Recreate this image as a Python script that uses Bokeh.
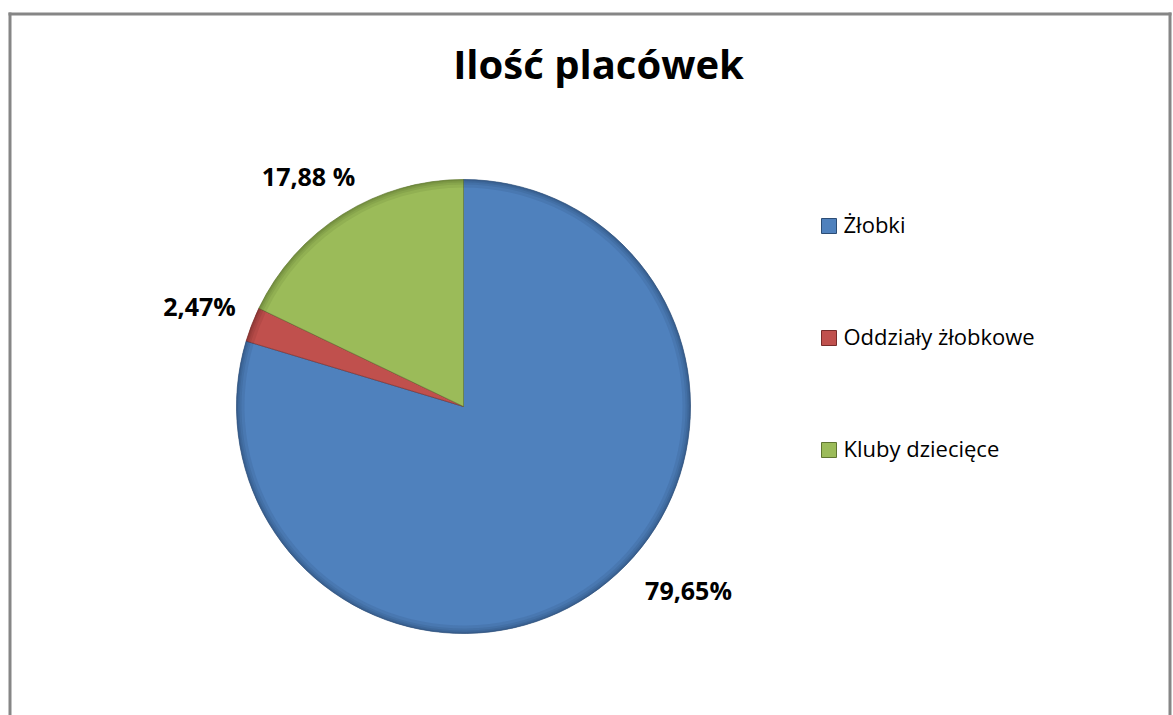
import math
from bokeh.plotting import figure
from bokeh.models import Range1d, Label, ColumnDataSource
from bokeh.core.properties import value
from bokeh.embed import file_html
from bokeh.resources import INLINE

# ---- data ----
title_text = "Ilość placówek"
categories = ["Żłobki", "Oddziały żłobkowe", "Kluby dziecięce"]
shares = [79.65, 2.47, 17.88]
label_texts = ["79,65%", "2,47%", "17,88 %"]
colors = ["#4F81BD", "#C0504D", "#9BBB59"]
dark_colors = ["#2C4D75", "#772C2A", "#5F7530"]

# ---- layout constants (screen px on page) ----
FW, FH = 1172, 715
def X(sx): return sx
def Y(sy): return FH - sy

cx, cy, R = X(463), Y(406), 227

p = figure(width=FW, height=FH, output_backend="svg", toolbar_location=None,
           x_range=Range1d(0, FW), y_range=Range1d(0, FH),
           x_axis_location=None, y_axis_location=None,
           min_border_left=0, min_border_right=0, min_border_top=0, min_border_bottom=0)
p.grid.visible = False
p.outline_line_color = None
p.background_fill_color = "white"
p.border_fill_color = "white"

# chart-area border (top, left, right)
border = "#868686"
p.segment(x0=[X(8), X(9.5), X(1169.5)], y0=[Y(13.5), Y(12), Y(12)],
          x1=[X(1171), X(9.5), X(1169.5)], y1=[Y(13.5), Y(720), Y(720)],
          line_color=border, line_width=3)

# angles: start at top, clockwise
total = sum(shares)
starts, ends = [], []
cum = 0.0
for s in shares:
    a_end = math.pi / 2 - 2 * math.pi * cum / total
    cum += s
    a_start = math.pi / 2 - 2 * math.pi * cum / total
    starts.append(a_start)
    ends.append(a_end)

src = ColumnDataSource(dict(start=starts, end=ends, color=colors, dark=dark_colors, cat=categories))
p.wedge(x=cx, y=cy, radius=R, start_angle="start", end_angle="end", fill_color="color",
        line_color="dark", line_width=1, line_alpha=0.6, source=src)

# rim shading (bevel look)
for w, a in [(8, 0.06), (5, 0.08), (3, 0.12), (1.5, 0.18)]:
    p.annular_wedge(x=cx, y=cy, inner_radius=R - w, outer_radius=R, start_angle="start",
                    end_angle="end", fill_color="dark", fill_alpha=a + 0.1, line_alpha=0, source=src)

# data labels
lab_x = [X(688), X(199), X(308)]
lab_y = [Y(589), Y(305), Y(175)]
p.text(x=lab_x, y=lab_y, text=label_texts, text_font=value("Open Sans"), text_font_style="bold",
       text_font_size="25px", text_align="center", text_baseline="middle", text_color="black")

# legend (manual)
leg_y_px = [225.5, 337.5, 449.5]
leg_x = [X(828.5)] * 3
leg_y = [Y(v) for v in leg_y_px]
p.scatter(x=leg_x, y=leg_y, marker="square", size=15, fill_color=colors, line_color=dark_colors,
          line_width=1)
p.text(x=[X(843)] * 3, y=[Y(v - 2) for v in leg_y_px], text=categories, text_font=value("Open Sans"),
       text_font_size="22px", text_align="left", text_baseline="middle", text_color="black")

# title
p.add_layout(Label(x=X(598), y=Y(63), text=title_text, text_font="Open Sans", text_font_style="bold",
                   text_font_size="40px", text_align="center", text_baseline="middle",
                   text_color="black"))

open("out.html", "w").write(file_html(p, INLINE))
